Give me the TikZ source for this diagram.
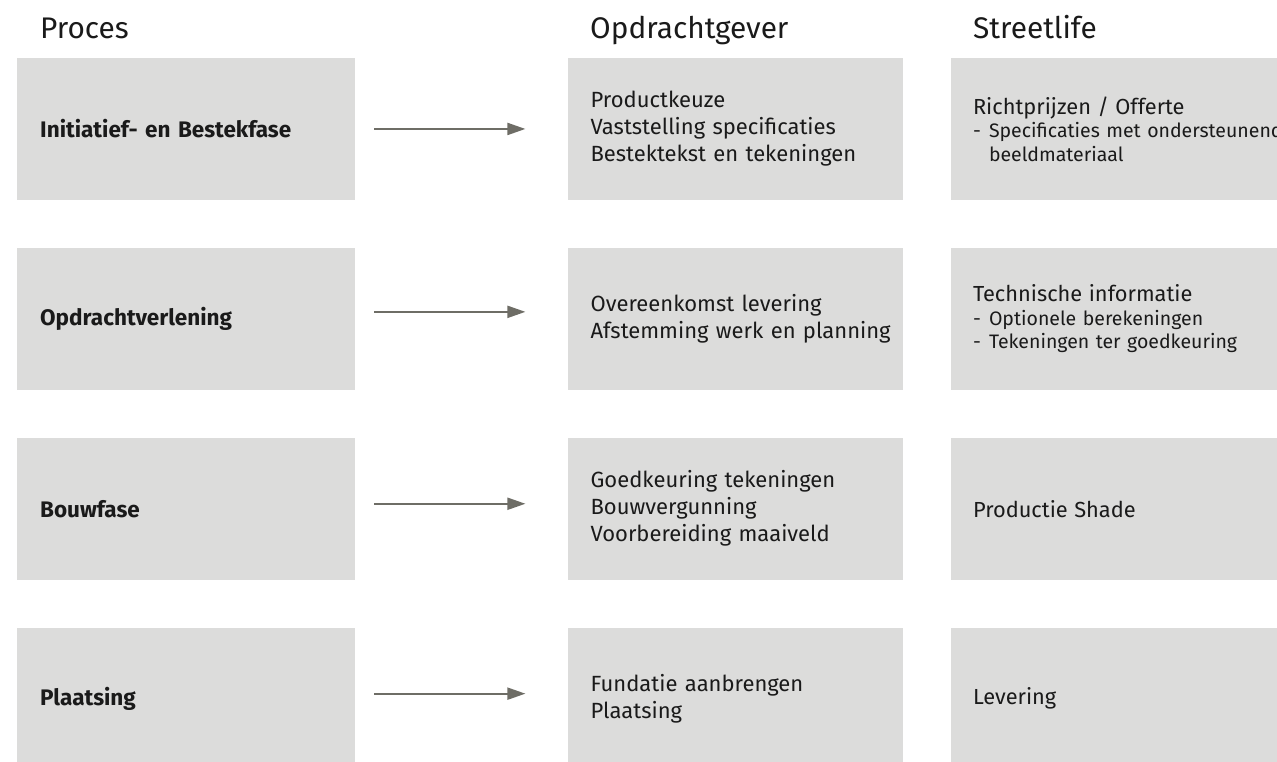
\documentclass[tikz,border=0pt]{standalone}
\usepackage{fontspec}
\setmainfont{Fira Sans}
\usepackage{xcolor}
\usetikzlibrary{positioning,arrows.meta}

\definecolor{boxgrey}{HTML}{DCDCDB}
\definecolor{arrowgrey}{HTML}{6E6D66}
\definecolor{ink}{HTML}{1A1A1A}

\newcommand\leadline[1]{{\fontsize{21.8}{24}\selectfont #1}}
\newcommand\dashitem[1]{\makebox[16pt][l]{-}#1}

\begin{document}
\begin{tikzpicture}[
  x=1pt,y=-1pt,
  node distance=48pt,
  head/.style={anchor=base west,inner sep=0pt,text=ink,
               font=\fontsize{29.8}{34}\selectfont},
  phase/.style={fill=boxgrey,minimum height=141.5pt,inner xsep=23pt,
                inner ysep=0pt,align=left,text=ink},
  proc/.style={phase,minimum width=338pt,text width=292pt,
               font=\fontsize{22.5}{26}\selectfont\bfseries},
  client/.style={phase,minimum width=335pt,text width=289pt,
                 font=\fontsize{22}{27}\selectfont},
  supplier/.style={phase,minimum width=384pt,text width=340pt,inner xsep=22pt,
                   font=\fontsize{19.5}{23.5}\selectfont},
  flow/.style={-{Triangle[length=18pt,width=12pt]},line width=2pt,draw=arrowgrey,
               shorten <=19pt,shorten >=42pt}
]
\clip (0,0) rectangle (1277,761);

% column heads
\node[head] (hproc) at (40,38) {Proces};
\node[head] (hclient) at (590,38) {Opdrachtgever};
\node[head] (hsupp) at (973,38) {Streetlife};

% process column
\node[proc,anchor=north west] (proc1) at (17,58) {Initiatief- en Bestekfase};
\node[proc,below=of proc1] (proc2) {Opdrachtverlening};
\node[proc,below=of proc2] (proc3) {Bouwfase};
\node[proc,below=of proc3] (proc4) {Plaatsing};

% opdrachtgever column
\node[client,right=212pt of proc1] (client1) {Productkeuze\\Vaststelling specificaties\\Bestektekst en tekeningen};
\node[client,right=212pt of proc2] (client2) {Overeenkomst levering\\\mbox{Afstemming werk en planning}};
\node[client,right=212pt of proc3] (client3) {Goedkeuring tekeningen\\Bouwvergunning\\Voorbereiding maaiveld};
\node[client,right=212pt of proc4] (client4) {Fundatie aanbrengen\\Plaatsing};

% streetlife column
\node[supplier,right=of client1] (supp1) {\leadline{Richtprijzen / Offerte}\\
  \dashitem{Specificaties met ondersteunend}\\\hspace*{16pt}beeldmateriaal};
\node[supplier,right=of client2] (supp2) {\leadline{Technische informatie}\\
  \dashitem{Optionele berekeningen}\\\dashitem{Tekeningen ter goedkeuring}};
\node[supplier,right=of client3] (supp3) {\leadline{Productie Shade}};
\node[supplier,right=of client4] (supp4) {\leadline{Levering}};

\draw[flow] (proc1.east) -- (client1.west);
\draw[flow] ([yshift=7pt]proc2.east) -- ([yshift=7pt]client2.west);
\draw[flow] ([yshift=5pt]proc3.east) -- ([yshift=5pt]client3.west);
\draw[flow] ([yshift=5pt]proc4.east) -- ([yshift=5pt]client4.west);
\end{tikzpicture}
\end{document}
